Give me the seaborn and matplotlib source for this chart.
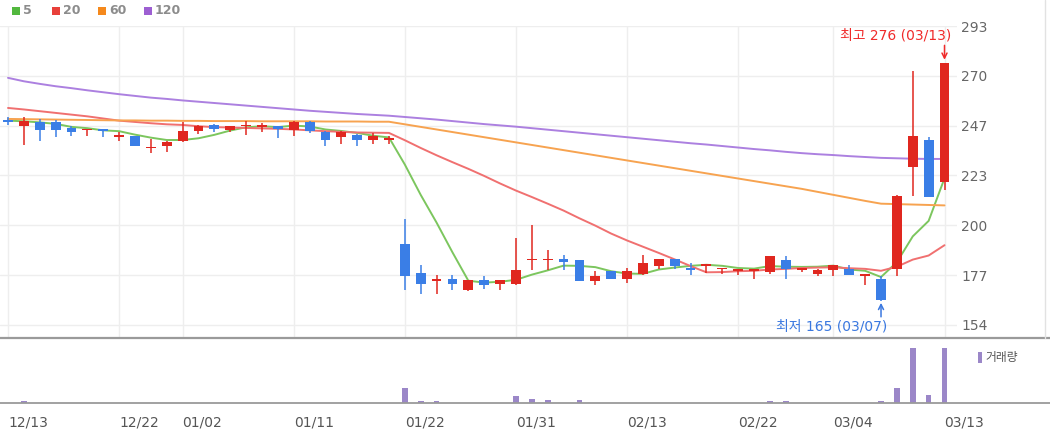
import numpy as np
import pandas as pd
import matplotlib
matplotlib.use("Agg")
import matplotlib.pyplot as plt
from matplotlib.patches import Rectangle
import seaborn as sns

# ── 일봉 데이터 (12/13 ~ 03/13, 60 거래일) ─────────────────────────────────────
opens  = [249.5, 246.7, 248.5, 248.5, 245.4, 244.5, 245.1, 241.2, 241.7, 236.2,
          237.1, 239.7, 244.4, 247.0, 244.5, 246.5, 246.2, 246.4, 244.8, 248.5,
          243.6, 241.3, 242.4, 240.0, 240.2, 191.8, 178.0, 174.4, 175.2, 170.2,
          174.9, 173.0, 173.0, 184.1, 184.1, 184.9, 184.1, 174.4, 179.2, 175.3,
          177.5, 181.3, 184.6, 180.6, 181.5, 180.0, 179.3, 179.3, 178.7, 184.4,
          179.8, 177.6, 179.5, 180.2, 177.0, 175.2, 180.2, 227.4, 240.0, 220.4]
highs  = [250.5, 250.5, 249.8, 249.5, 246.7, 245.3, 245.3, 243.6, 242.0, 240.5,
          239.5, 248.5, 247.0, 247.5, 246.6, 249.0, 248.0, 246.6, 249.0, 249.0,
          244.0, 244.0, 242.6, 243.4, 242.0, 203.4, 182.1, 177.2, 177.2, 175.0,
          176.8, 175.0, 194.5, 200.3, 189.0, 186.4, 184.3, 179.2, 179.3, 180.3,
          186.7, 184.8, 184.8, 182.6, 181.9, 180.3, 179.6, 179.6, 186.1, 186.0,
          180.1, 180.0, 182.0, 181.8, 177.3, 176.7, 214.5, 272.2, 241.6, 276.0]
lows   = [247.0, 237.7, 239.7, 241.3, 242.0, 242.0, 241.3, 239.7, 237.0, 234.0,
          234.6, 239.0, 243.0, 243.6, 243.6, 242.4, 243.9, 240.9, 242.0, 243.2,
          237.0, 238.2, 237.4, 238.2, 238.2, 170.2, 168.2, 168.4, 170.2, 170.0,
          170.7, 170.2, 172.8, 179.8, 179.8, 179.8, 174.5, 172.5, 175.5, 173.3,
          177.3, 180.2, 180.2, 177.2, 178.0, 177.5, 177.2, 175.6, 177.5, 175.6,
          178.7, 176.7, 176.7, 177.3, 172.5, 165.0, 176.7, 214.2, 213.3, 216.8]
closes = [248.5, 249.0, 244.8, 244.8, 243.6, 245.1, 244.4, 242.4, 237.1, 236.6,
          239.3, 244.4, 246.7, 245.1, 246.3, 247.2, 246.7, 244.9, 248.5, 244.4,
          239.8, 243.6, 240.0, 242.0, 240.8, 176.8, 173.0, 175.2, 173.0, 174.9,
          172.4, 174.9, 179.8, 184.9, 184.9, 183.3, 174.6, 176.8, 175.6, 179.2,
          182.6, 184.6, 181.3, 179.8, 181.8, 180.2, 179.5, 179.5, 186.0, 180.2,
          180.0, 179.8, 181.8, 177.4, 177.2, 165.4, 214.2, 242.0, 213.4, 276.0]
# 거래량 (최대값 = 100 기준)
volume = [0, 3.5, 0, 0, 0, 0, 0, 0, 0, 0,
          0, 0, 0, 0, 0, 0, 0, 0, 0, 0,
          0, 0, 0, 0, 0, 27, 4, 4, 0, 0,
          0, 0, 13, 8, 5, 0, 5, 0, 0, 0,
          0, 0, 0, 0, 0, 0, 0, 0, 4, 4,
          0, 0, 0, 0, 0, 4, 27, 100, 15, 100]

# 이동평균선
ma5   = [249.0, 248.7, 248.2, 247.5, 246.1, 245.5, 244.5, 244.1, 242.5, 241.1,
         240.0, 240.0, 240.8, 242.4, 244.4, 245.9, 246.4, 246.0, 246.7, 246.3,
         244.9, 244.2, 243.3, 242.0, 241.2, 228.6, 214.5, 201.6, 187.8, 174.6,
         173.7, 174.1, 175.0, 177.4, 179.4, 181.6, 181.5, 180.9, 179.0, 177.9,
         177.8, 179.8, 180.7, 181.5, 182.0, 181.5, 180.5, 180.2, 181.4, 181.1,
         181.0, 181.1, 181.6, 179.8, 179.2, 176.3, 183.2, 195.2, 202.4, 222.2]
ma20  = [254.9, 254.2, 253.4, 252.6, 251.8, 251.0, 250.0, 249.0, 248.4, 247.8,
         247.3, 247.0, 246.4, 246.0, 245.8, 245.6, 245.4, 245.2, 244.9, 244.5,
         244.1, 243.8, 243.5, 243.4, 243.3, 239.9, 236.3, 232.9, 229.7, 226.6,
         223.3, 219.8, 216.5, 213.5, 210.4, 207.2, 203.6, 200.2, 196.5, 193.3,
         190.4, 187.5, 184.5, 181.4, 178.5, 178.6, 179.0, 179.2, 179.8, 180.1,
         180.5, 180.7, 180.8, 180.4, 180.1, 179.2, 181.1, 184.4, 186.3, 191.1]
ma60  = [249.8, 249.7, 249.6, 249.5, 249.4, 249.3, 249.2, 249.1, 249.1, 249.0,
         249.0, 248.9, 248.9, 248.8, 248.8, 248.8, 248.7, 248.7, 248.7, 248.7,
         248.6, 248.6, 248.6, 248.5, 248.5, 247.3, 246.1, 244.9, 243.7, 242.5,
         241.3, 240.1, 238.9, 237.7, 236.5, 235.3, 234.1, 232.9, 231.7, 230.5,
         229.3, 228.1, 226.9, 225.7, 224.5, 223.3, 222.1, 220.9, 219.7, 218.5,
         217.3, 215.9, 214.5, 213.1, 211.7, 210.4, 210.2, 210.0, 209.8, 209.6]
ma120 = [268.9, 267.3, 266.1, 265.0, 264.1, 263.1, 262.2, 261.3, 260.5, 259.7,
         259.1, 258.4, 257.8, 257.2, 256.6, 256.0, 255.4, 254.8, 254.2, 253.6,
         253.1, 252.6, 252.1, 251.7, 251.3, 250.7, 250.1, 249.5, 248.8, 248.1,
         247.4, 246.8, 246.2, 245.5, 244.8, 244.1, 243.4, 242.7, 242.0, 241.3,
         240.6, 239.9, 239.2, 238.5, 237.9, 237.2, 236.5, 235.8, 235.2, 234.5,
         233.9, 233.4, 233.0, 232.5, 232.1, 231.7, 231.5, 231.3, 231.2, 231.2]

tick_pos    = [0, 7, 11, 18, 25, 32, 39, 46, 52, 59]
tick_labels = ["12/13", "12/22", "01/02", "01/11", "01/22",
               "01/31", "02/13", "02/22", "03/04", "03/13"]
price_labels = ["154", "177", "200", "223", "247", "270", "293"]
price_min, price_max = 154, 293

RED, BLUE = "#e0271f", "#3a7ee6"
MA_COLORS = {"5": "#7cc65e", "20": "#f07070", "60": "#f7a350", "120": "#ac80e0"}
LEG_COLORS = {"5": "#52b83e", "20": "#e8403a", "60": "#f5891c", "120": "#9d5fd2"}
VOL_COLOR = "#9b87c8"

sns.set_style("white")
plt.rcParams["font.family"] = ["DejaVu Sans", "Noto Sans CJK KR"]

W, H = 1050, 434
PX, X0 = 15.873, 8          # 캔들 간격(px), 첫 캔들 위치(px)


def fx(px):
    return px / W


def fy(py):
    return 1 - py / H


fig = plt.figure(figsize=(W / 100, H / 100), dpi=100)
ax  = fig.add_axes([0, fy(338), fx(957), fy(26) - fy(338)])
axv = fig.add_axes([0, fy(403), 1, fy(338) - fy(403)])

idx = np.arange(len(closes))
o, h, l, c = map(np.array, (opens, highs, lows, closes))
colors = np.where(c >= o, RED, BLUE)

# ── 캔들 ──────────────────────────────────────────────────────────────────────
ax.vlines(idx, l, h, colors=colors, lw=1.1, zorder=3)
ax.bar(idx, np.maximum(np.abs(c - o), 0.7), bottom=np.minimum(o, c),
       width=0.62, color=colors, linewidth=0, zorder=4)

# ── 이동평균선 ────────────────────────────────────────────────────────────────
ma_df = pd.DataFrame({
    "idx": np.tile(idx, 4),
    "price": ma5 + ma20 + ma60 + ma120,
    "ma": np.repeat(["5", "20", "60", "120"], len(idx)),
})
sns.lineplot(data=ma_df, x="idx", y="price", hue="ma", palette=MA_COLORS,
             legend=False, lw=1.4, ax=ax, zorder=2)

ax.set_xlim(-X0 / PX, (957 - X0) / PX)
ax.set_ylim(price_min - 13 / 2.151, price_max)
ax.set_xticks(tick_pos)
ax.set_yticks(np.linspace(price_min, price_max, len(price_labels)))
ax.set_yticklabels(price_labels)
ax.yaxis.tick_right()
ax.tick_params(axis="x", length=0, labelbottom=False)
ax.tick_params(axis="y", length=0, pad=3, labelsize=10, labelcolor="#666666")
ax.grid(True, color="#eeeeee", lw=1)
ax.set_xlabel("")
ax.set_ylabel("")
for s in ax.spines.values():
    s.set_visible(False)

# 최고 / 최저 표시
ax.text(59.45, 288.6, "최고 276 (03/13)", ha="right", va="center",
        fontsize=10, color="#f02a2a")
ax.annotate("", xy=(59, 277.3), xytext=(59, 284.0),
            arrowprops=dict(arrowstyle="->", color="#f02a2a", lw=1.1,
                            shrinkA=0, shrinkB=0, mutation_scale=9))
ax.text(55.4, 153.3, "최저 165 (03/07)", ha="right", va="center",
        fontsize=10, color="#3a78e0")
ax.annotate("", xy=(55, 164.3), xytext=(55, 157.8),
            arrowprops=dict(arrowstyle="->", color="#3a78e0", lw=1.1,
                            shrinkA=0, shrinkB=0, mutation_scale=9))

# ── 거래량 ────────────────────────────────────────────────────────────────────
axv.bar(idx, volume, width=0.36, color=VOL_COLOR, linewidth=0)
axv.set_xlim(-X0 / PX, (W - X0) / PX)
axv.set_ylim(0, 118)
axv.set_yticks([])
axv.set_xticks(tick_pos)
axv.set_xticklabels(tick_labels)
for lab in axv.get_xticklabels():
    lab.set_ha("left")
axv.tick_params(axis="x", direction="out", length=6, width=1, color="#999999",
                pad=3, labelsize=10, labelcolor="#555555")
for side in ("left", "right"):
    axv.spines[side].set_visible(False)
axv.spines["top"].set_color("#9a9a9a")
axv.spines["top"].set_linewidth(1.6)
axv.spines["bottom"].set_color("#9a9a9a")
axv.spines["bottom"].set_linewidth(1.3)

fig.add_artist(Rectangle((fx(978), fy(363)), fx(4), 11 / H, color=VOL_COLOR,
                         transform=fig.transFigure, lw=0))
fig.text(fx(985), fy(357.5), "거래량", ha="left", va="center", fontsize=8.5,
         color="#555555", family=["Noto Sans CJK KR", "DejaVu Sans"])

# ── 상단 범례 ─────────────────────────────────────────────────────────────────
for lab, px in zip(["5", "20", "60", "120"], [12, 52, 98, 144]):
    fig.add_artist(Rectangle((fx(px), fy(15)), fx(8), 8 / H,
                             color=LEG_COLORS[lab], transform=fig.transFigure, lw=0))
    fig.text(fx(px + 11), fy(10.5), lab, ha="left", va="center", fontsize=9,
             fontweight="bold", color="#8c8c8c")

fig.add_artist(plt.Line2D([fx(1045), fx(1045)], [fy(0), fy(338)], color="#e2e2e2",
                          lw=1, transform=fig.transFigure))

fig.savefig("out.png", dpi=100)
